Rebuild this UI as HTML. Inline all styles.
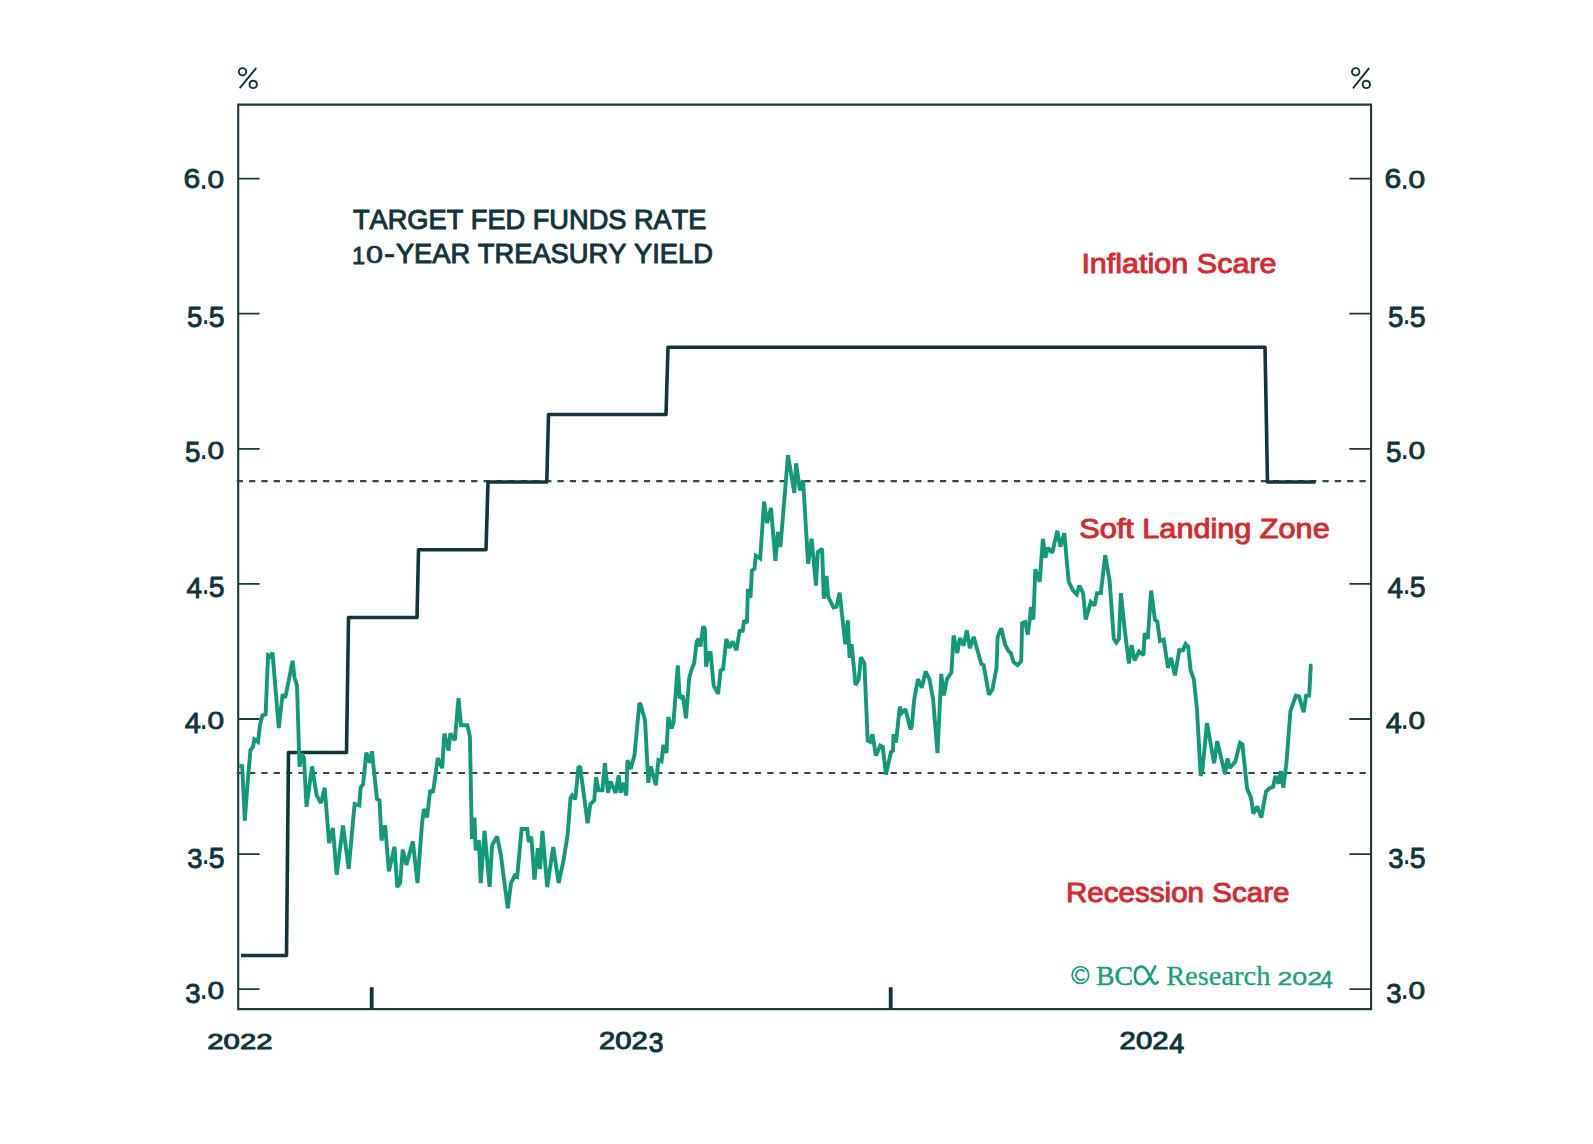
<!DOCTYPE html><html><head><meta charset="utf-8"><style>html,body{margin:0;padding:0;background:#fff;overflow:hidden}svg{display:block}text{font-kerning:none}</style></head><body>
<svg width="1593" height="1144" viewBox="0 0 1593 1144">
<rect width="1593" height="1144" fill="#fff"/>
<path d="M238.2 104.6 H1371.1 V1009.1 H238.2 Z" fill="none" stroke="#1b3a3e" stroke-width="2.1"/>
<path d="M238.2 989.2 H259.6 M1349.4 989.2 H1371 M238.2 854.1 H259.6 M1349.4 854.1 H1371 M238.2 719.0 H259.6 M1349.4 719.0 H1371 M238.2 583.9 H259.6 M1349.4 583.9 H1371 M238.2 448.8 H259.6 M1349.4 448.8 H1371 M238.2 313.7 H259.6 M1349.4 313.7 H1371 M238.2 178.6 H259.6 M1349.4 178.6 H1371 " stroke="#1b3a3e" stroke-width="1.8" fill="none"/>
<path d="M371.7 987.2 V1009 M890.7 987.3 V1009" stroke="#11353a" stroke-width="3.8" fill="none"/>
<path d="M236.7 481.2 H1367" stroke="#34494a" stroke-width="2.2" stroke-dasharray="6.25 6.088" fill="none"/>
<path d="M236.7 773.0 H1367" stroke="#34494a" stroke-width="2.2" stroke-dasharray="6.25 6.088" fill="none"/>
<polyline points="241,955.5 286.5,955.5 288.5,752.5 346.5,752.5 348.5,617.5 417,617.5 418.5,549.8 486,549.8 488,482 546.8,482 548.5,414.5 666,414.5 668,347.3 1265,347.3 1267.5,482 1315.5,482" fill="none" stroke="#11353a" stroke-width="3.6" stroke-linejoin="round"/>
<polyline points="239.3,765.8 242.2,766.2 244.8,820.6 248.0,777.8 250.5,750.0 253.0,747.0 254.3,739.4 258.0,742.0 259.9,725.6 262.4,715.5 265.6,714.3 268.1,655.1 270.6,656.4 272.5,652.6 278.8,728.1 282.6,694.1 285.1,697.9 286.3,692.9 292.6,660.8 294.5,677.8 297.0,685.3 299.5,766.8 301.8,753.5 304.0,758.3 306.5,806.7 312.1,766.4 316.6,795.4 321.0,803.0 324.7,787.8 329.1,843.2 332.9,828.1 336.7,874.7 343.0,825.4 348.7,868.8 354.6,804.0 359.3,805.4 360.6,787.8 363.1,784.0 366.3,752.6 369.4,762.7 371.9,751.3 377.0,799.0 379.5,800.5 381.5,840.5 385.1,825.4 388.9,871.3 394.5,846.8 397.2,887.0 400.2,883.1 402.7,849.6 406.5,865.0 412.8,841.2 417.5,883.0 422.0,824.0 423.9,809.0 427.1,817.2 430.2,790.1 433.0,792.6 437.8,758.0 442.2,768.1 444.3,733.5 448.5,750.5 450.3,733.5 454.8,740.4 458.5,698.3 461.0,725.3 467.3,725.3 469.9,736.6 471.9,839.0 474.5,817.6 475.7,850.3 478.9,840.3 480.7,883.1 484.5,830.8 489.6,886.8 492.1,845.3 497.1,836.5 500.9,855.4 507.8,908.2 511.0,883.1 514.7,875.5 517.2,876.8 521.6,829.0 527.2,828.9 528.7,842.0 531.3,836.6 534.5,879.6 537.9,848.1 540.1,869.0 542.4,831.0 547.2,887.2 553.2,847.0 558.7,883.0 563.7,859.4 567.6,835.0 570.5,798.0 572.2,795.4 575.3,799.2 578.5,766.4 580.3,767.7 587.6,823.3 590.4,804.2 594.2,800.4 596.1,777.1 598.6,790.3 602.4,790.3 604.9,763.3 608.0,792.9 610.6,781.5 615.6,792.9 618.7,775.2 620.6,792.9 623.1,782.8 626.3,795.4 627.5,760.1 630.7,769.0 634.5,755.1 639.4,703.2 640.7,704.5 645.1,720.8 648.3,782.8 650.8,766.4 655.9,785.3 658.4,760.1 661.5,761.4 663.4,745.0 666.5,753.0 668.2,717.0 671.5,728.4 673.4,723.3 677.8,665.4 679.7,698.2 682.9,695.7 686.0,718.3 689.2,678.0 691.7,669.2 694.2,662.9 696.7,641.5 698.6,639.0 700.5,646.6 703.0,626.4 704.9,629.0 706.1,666.7 708.7,652.9 710.6,652.9 713.7,685.6 718.1,693.8 720.6,670.5 723.1,669.2 726.3,639.0 729.4,647.8 732.6,641.5 736.4,650.3 739.6,630.9 742.7,630.9 744,620.4 747,623 747.9,589 750.5,597.7 751.9,570.6 754.5,568.8 755.8,555.7 760.2,558.4 764.1,501.7 767.2,523.1 771.0,508.0 775.4,560.8 777.9,531.9 780.4,547.0 788.0,455.1 794.3,492.9 796.1,463.3 799.9,490.3 803.1,480.3 808.1,563.7 811.6,538.8 816.0,585.6 817.7,552.3 822.1,548.8 823.8,598.7 826.5,575.9 828.2,596.9 833.5,607.4 836.5,606.6 839.6,592.6 845.3,644.3 847.8,620.4 849.6,658.0 851.6,644.3 855.6,685.0 858.7,679.5 860.9,657.3 864.4,663.5 867.7,740.6 870.2,741.9 872.5,734.3 875.9,755.7 880.3,745.7 882.8,746.9 885.9,774.6 891.0,752.0 892.9,750.7 893.5,734.3 896.0,742.5 899.8,706.6 901.7,712.9 905.4,709.2 910.5,729.3 911.7,726.8 914.3,699.1 918.0,679.0 921.8,687.8 925.6,671.4 929.4,679.0 933.1,699.1 937.5,753.2 941.3,673.9 943.8,695.3 947.0,679.0 951.4,672.7 953.6,635.5 957.3,653.1 959.9,638.0 963.6,645.6 966.8,630.5 969.9,648.1 973.7,636.8 978.5,654.0 981.4,664.0 983.6,665.0 988.9,694.7 992.4,689.5 996.5,668.0 997.6,637.1 1001.3,628.3 1005.1,644.7 1008.5,651.0 1010.8,653.0 1013.5,662.0 1017.5,665.1 1021.2,661.3 1022.1,623.3 1025.2,622.0 1027.8,634.6 1029.6,620.8 1030.9,606.9 1033.4,619.5 1035.3,569.2 1039.7,581.7 1042.9,539.0 1045.4,557.8 1047.9,547.8 1052.3,552.8 1057.3,530.8 1060.5,546.5 1064.3,533.3 1068.7,581.7 1073.1,590.6 1076.8,594.3 1079.4,585.5 1083.1,593.1 1085.7,619.5 1090.7,601.9 1094.5,605.7 1097.0,593.1 1100.8,593.1 1105.2,555.3 1109.6,580.5 1113.8,638.9 1116.4,642.7 1118.9,638.9 1120.9,593.1 1124.7,629.6 1128.9,663.4 1131.5,645.2 1134.6,660.3 1139.0,651.5 1143.4,655.2 1144.7,633.2 1147.8,638.9 1151.1,590.6 1154.9,619.5 1157.4,622.0 1159.9,640.9 1163.7,639.6 1168.0,667.8 1171.1,657.8 1174.9,675.4 1179.3,650.2 1183.1,650.2 1185.6,643.9 1188.1,646.4 1190.6,670.3 1193.8,679.2 1196.9,708.1 1200.7,775.9 1202.3,771.1 1207.0,723.2 1214.1,763.3 1217.2,741.3 1225.1,774.3 1227.4,758.6 1229.8,768.0 1235.3,761.7 1240.0,742.8 1242.4,744.4 1247.1,788.5 1251.0,797.9 1253.4,813.6 1257.3,806.5 1261.3,817.6 1266.0,791.6 1269.1,788.5 1273.1,786.9 1275.4,775.9 1278.6,783.7 1280.9,771.1 1283.3,787.7 1286.4,763.3 1290.4,711.4 1295.9,695.6 1299.0,696.4 1303.7,712.1 1306.1,695.6 1309.2,695.6 1310.8,665.7 1312.4,665.7" fill="none" stroke="#12997a" stroke-width="3.9" stroke-linejoin="miter" stroke-miterlimit="2"/>
<circle cx="242.5" cy="71.8" r="3.7" fill="none" stroke="#11353a" stroke-width="1.9"/><circle cx="253.2" cy="84.4" r="3.7" fill="none" stroke="#11353a" stroke-width="1.9"/><line x1="240.2" y1="87.6" x2="255.7" y2="68.6" stroke="#11353a" stroke-width="1.9" stroke-linecap="round"/>
<circle cx="1355.7" cy="71.8" r="3.7" fill="none" stroke="#11353a" stroke-width="1.9"/><circle cx="1366.3" cy="84.4" r="3.7" fill="none" stroke="#11353a" stroke-width="1.9"/><line x1="1353.5" y1="87.7" x2="1368.7" y2="68.6" stroke="#11353a" stroke-width="1.9" stroke-linecap="round"/>
<text transform="matrix(0.30124 0 0 0.28531 183.52 188.47)" font-family="Liberation Sans" font-weight="normal" font-size="100.0" fill="#11353a" stroke="#11353a" stroke-width="3.069" stroke-linejoin="round">6</text>
<text transform="matrix(0.31508 0 0 0.35536 199.32 188.80)" font-family="Liberation Sans" font-weight="normal" font-size="100.0" fill="#11353a">.</text>
<text transform="matrix(0.29915 0 0 0.24576 207.48 188.41)" font-family="Liberation Sans" font-weight="normal" font-size="100.0" fill="#11353a" stroke="#11353a" stroke-width="3.303" stroke-linejoin="round">0</text>
<text transform="matrix(0.30124 0 0 0.28531 1384.52 188.47)" font-family="Liberation Sans" font-weight="normal" font-size="100.0" fill="#11353a" stroke="#11353a" stroke-width="3.069" stroke-linejoin="round">6</text>
<text transform="matrix(0.31508 0 0 0.35536 1400.32 188.80)" font-family="Liberation Sans" font-weight="normal" font-size="100.0" fill="#11353a">.</text>
<text transform="matrix(0.29915 0 0 0.24576 1408.48 188.41)" font-family="Liberation Sans" font-weight="normal" font-size="100.0" fill="#11353a" stroke="#11353a" stroke-width="3.303" stroke-linejoin="round">0</text>
<text transform="matrix(0.27630 0 0 0.28663 187.04 327.27)" font-family="Liberation Sans" font-weight="normal" font-size="100.0" fill="#11353a" stroke="#11353a" stroke-width="3.198" stroke-linejoin="round">5</text>
<text transform="matrix(0.29407 0 0 0.35536 201.51 323.90)" font-family="Liberation Sans" font-weight="normal" font-size="100.0" fill="#11353a">.</text>
<text transform="matrix(0.28474 0 0 0.28663 208.81 327.27)" font-family="Liberation Sans" font-weight="normal" font-size="100.0" fill="#11353a" stroke="#11353a" stroke-width="3.150" stroke-linejoin="round">5</text>
<text transform="matrix(0.27630 0 0 0.28663 1388.04 327.27)" font-family="Liberation Sans" font-weight="normal" font-size="100.0" fill="#11353a" stroke="#11353a" stroke-width="3.198" stroke-linejoin="round">5</text>
<text transform="matrix(0.29407 0 0 0.35536 1402.51 323.90)" font-family="Liberation Sans" font-weight="normal" font-size="100.0" fill="#11353a">.</text>
<text transform="matrix(0.28474 0 0 0.28663 1409.81 327.27)" font-family="Liberation Sans" font-weight="normal" font-size="100.0" fill="#11353a" stroke="#11353a" stroke-width="3.150" stroke-linejoin="round">5</text>
<text transform="matrix(0.27841 0 0 0.28663 185.04 462.37)" font-family="Liberation Sans" font-weight="normal" font-size="100.0" fill="#11353a" stroke="#11353a" stroke-width="3.186" stroke-linejoin="round">5</text>
<text transform="matrix(0.31508 0 0 0.35536 199.32 459.00)" font-family="Liberation Sans" font-weight="normal" font-size="100.0" fill="#11353a">.</text>
<text transform="matrix(0.29915 0 0 0.24576 207.48 458.61)" font-family="Liberation Sans" font-weight="normal" font-size="100.0" fill="#11353a" stroke="#11353a" stroke-width="3.303" stroke-linejoin="round">0</text>
<text transform="matrix(0.27841 0 0 0.28663 1386.04 462.37)" font-family="Liberation Sans" font-weight="normal" font-size="100.0" fill="#11353a" stroke="#11353a" stroke-width="3.186" stroke-linejoin="round">5</text>
<text transform="matrix(0.31508 0 0 0.35536 1400.32 459.00)" font-family="Liberation Sans" font-weight="normal" font-size="100.0" fill="#11353a">.</text>
<text transform="matrix(0.29915 0 0 0.24576 1408.48 458.61)" font-family="Liberation Sans" font-weight="normal" font-size="100.0" fill="#11353a" stroke="#11353a" stroke-width="3.303" stroke-linejoin="round">0</text>
<text transform="matrix(0.28180 0 0 0.29070 186.40 597.75)" font-family="Liberation Sans" font-weight="normal" font-size="100.0" fill="#11353a" stroke="#11353a" stroke-width="3.144" stroke-linejoin="round">4</text>
<text transform="matrix(0.29407 0 0 0.35536 201.51 594.10)" font-family="Liberation Sans" font-weight="normal" font-size="100.0" fill="#11353a">.</text>
<text transform="matrix(0.28474 0 0 0.28663 208.81 597.47)" font-family="Liberation Sans" font-weight="normal" font-size="100.0" fill="#11353a" stroke="#11353a" stroke-width="3.150" stroke-linejoin="round">5</text>
<text transform="matrix(0.28180 0 0 0.29070 1387.40 597.75)" font-family="Liberation Sans" font-weight="normal" font-size="100.0" fill="#11353a" stroke="#11353a" stroke-width="3.144" stroke-linejoin="round">4</text>
<text transform="matrix(0.29407 0 0 0.35536 1402.51 594.10)" font-family="Liberation Sans" font-weight="normal" font-size="100.0" fill="#11353a">.</text>
<text transform="matrix(0.28474 0 0 0.28663 1409.81 597.47)" font-family="Liberation Sans" font-weight="normal" font-size="100.0" fill="#11353a" stroke="#11353a" stroke-width="3.150" stroke-linejoin="round">5</text>
<text transform="matrix(0.28974 0 0 0.29070 184.79 732.85)" font-family="Liberation Sans" font-weight="normal" font-size="100.0" fill="#11353a" stroke="#11353a" stroke-width="3.101" stroke-linejoin="round">4</text>
<text transform="matrix(0.31508 0 0 0.35536 199.32 729.20)" font-family="Liberation Sans" font-weight="normal" font-size="100.0" fill="#11353a">.</text>
<text transform="matrix(0.29915 0 0 0.24576 207.48 728.81)" font-family="Liberation Sans" font-weight="normal" font-size="100.0" fill="#11353a" stroke="#11353a" stroke-width="3.303" stroke-linejoin="round">0</text>
<text transform="matrix(0.28974 0 0 0.29070 1385.79 732.85)" font-family="Liberation Sans" font-weight="normal" font-size="100.0" fill="#11353a" stroke="#11353a" stroke-width="3.101" stroke-linejoin="round">4</text>
<text transform="matrix(0.31508 0 0 0.35536 1400.32 729.20)" font-family="Liberation Sans" font-weight="normal" font-size="100.0" fill="#11353a">.</text>
<text transform="matrix(0.29915 0 0 0.24576 1408.48 728.81)" font-family="Liberation Sans" font-weight="normal" font-size="100.0" fill="#11353a" stroke="#11353a" stroke-width="3.303" stroke-linejoin="round">0</text>
<text transform="matrix(0.27419 0 0 0.28248 187.21 867.67)" font-family="Liberation Sans" font-weight="normal" font-size="100.0" fill="#11353a" stroke="#11353a" stroke-width="3.233" stroke-linejoin="round">3</text>
<text transform="matrix(0.29407 0 0 0.35536 201.51 864.30)" font-family="Liberation Sans" font-weight="normal" font-size="100.0" fill="#11353a">.</text>
<text transform="matrix(0.28474 0 0 0.28663 208.81 867.67)" font-family="Liberation Sans" font-weight="normal" font-size="100.0" fill="#11353a" stroke="#11353a" stroke-width="3.150" stroke-linejoin="round">5</text>
<text transform="matrix(0.27419 0 0 0.28248 1388.21 867.67)" font-family="Liberation Sans" font-weight="normal" font-size="100.0" fill="#11353a" stroke="#11353a" stroke-width="3.233" stroke-linejoin="round">3</text>
<text transform="matrix(0.29407 0 0 0.35536 1402.51 864.30)" font-family="Liberation Sans" font-weight="normal" font-size="100.0" fill="#11353a">.</text>
<text transform="matrix(0.28474 0 0 0.28663 1409.81 867.67)" font-family="Liberation Sans" font-weight="normal" font-size="100.0" fill="#11353a" stroke="#11353a" stroke-width="3.150" stroke-linejoin="round">5</text>
<text transform="matrix(0.27630 0 0 0.28248 185.20 1002.77)" font-family="Liberation Sans" font-weight="normal" font-size="100.0" fill="#11353a" stroke="#11353a" stroke-width="3.221" stroke-linejoin="round">3</text>
<text transform="matrix(0.31508 0 0 0.35536 199.32 999.40)" font-family="Liberation Sans" font-weight="normal" font-size="100.0" fill="#11353a">.</text>
<text transform="matrix(0.29915 0 0 0.24576 207.48 999.01)" font-family="Liberation Sans" font-weight="normal" font-size="100.0" fill="#11353a" stroke="#11353a" stroke-width="3.303" stroke-linejoin="round">0</text>
<text transform="matrix(0.27630 0 0 0.28248 1386.20 1002.77)" font-family="Liberation Sans" font-weight="normal" font-size="100.0" fill="#11353a" stroke="#11353a" stroke-width="3.221" stroke-linejoin="round">3</text>
<text transform="matrix(0.31508 0 0 0.35536 1400.32 999.40)" font-family="Liberation Sans" font-weight="normal" font-size="100.0" fill="#11353a">.</text>
<text transform="matrix(0.29915 0 0 0.24576 1408.48 999.01)" font-family="Liberation Sans" font-weight="normal" font-size="100.0" fill="#11353a" stroke="#11353a" stroke-width="3.303" stroke-linejoin="round">0</text>
<text transform="matrix(0.29331 0 0 0.22316 207.27 1049.13)" font-family="Liberation Sans" font-weight="normal" font-size="100.0" fill="#11353a" stroke="#11353a" stroke-width="4.260" stroke-linejoin="round">2022</text>
<text transform="matrix(0.29212 0 0 0.23305 598.98 1048.92)" font-family="Liberation Sans" font-weight="normal" font-size="100.0" fill="#11353a" stroke="#11353a" stroke-width="4.189" stroke-linejoin="round">202</text>
<text transform="matrix(0.26365 0 0 0.27118 648.85 1052.49)" font-family="Liberation Sans" font-weight="normal" font-size="100.0" fill="#11353a" stroke="#11353a" stroke-width="4.113" stroke-linejoin="round">3</text>
<text transform="matrix(0.29339 0 0 0.23305 1119.57 1048.92)" font-family="Liberation Sans" font-weight="normal" font-size="100.0" fill="#11353a" stroke="#11353a" stroke-width="4.179" stroke-linejoin="round">202</text>
<text transform="matrix(0.26989 0 0 0.28344 1169.23 1052.75)" font-family="Liberation Sans" font-weight="normal" font-size="100.0" fill="#11353a" stroke="#11353a" stroke-width="3.976" stroke-linejoin="round">4</text>
<text transform="matrix(0.27205 0 0 0.27326 352.99 229.10)" font-family="Liberation Sans" font-weight="normal" font-size="100.0" fill="#11353a" stroke="#11353a" stroke-width="3.668" stroke-linejoin="round">TARGET FED FUNDS RATE</text>
<text transform="matrix(0.23658 0 0 0.23111 352.10 263.50)" font-family="Liberation Sans" font-weight="normal" font-size="100.0" fill="#11353a" stroke="#11353a" stroke-width="3.421" stroke-linejoin="round">1</text>
<text transform="matrix(0.30542 0 0 0.23870 366.01 263.47)" font-family="Liberation Sans" font-weight="normal" font-size="100.0" fill="#11353a" stroke="#11353a" stroke-width="2.941" stroke-linejoin="round">0</text>
<text transform="matrix(0.34816 0 0 0.34560 383.80 265.28)" font-family="Liberation Sans" font-weight="normal" font-size="100.0" fill="#11353a" stroke="#11353a" stroke-width="0.865" stroke-linejoin="round">-</text>
<text transform="matrix(0.27312 0 0 0.28489 395.90 263.40)" font-family="Liberation Sans" font-weight="normal" font-size="100.0" fill="#11353a" stroke="#11353a" stroke-width="3.584" stroke-linejoin="round">YEAR TREASURY YIELD</text>
<text transform="matrix(0.30547 0 0 0.28344 1081.38 273.20)" font-family="Liberation Sans" font-weight="normal" font-size="100.0" fill="#d42a30" stroke="#d42a30" stroke-width="3.396" stroke-linejoin="round">Inflation Scare</text>
<text transform="matrix(0.30645 0 0 0.27907 1079.31 537.90)" font-family="Liberation Sans" font-weight="normal" font-size="100.0" fill="#d42a30" stroke="#d42a30" stroke-width="3.416" stroke-linejoin="round">Soft Landing Zone</text>
<text transform="matrix(0.29586 0 0 0.27762 1065.97 901.60)" font-family="Liberation Sans" font-weight="normal" font-size="100.0" fill="#d42a30" stroke="#d42a30" stroke-width="3.487" stroke-linejoin="round">Recession Scare</text>
<circle cx="1080.4" cy="975" r="8.3" fill="none" stroke="#17a07d" stroke-width="1.7"/>
<path d="M1084.6 971.6 A4.9 5.1 0 1 0 1084.6 978.4" fill="none" stroke="#17a07d" stroke-width="1.8"/>
<text transform="matrix(0.27760 0 0 0.28053 1096.05 985.05)" font-family="Liberation Serif" font-weight="normal" font-size="100.0" fill="#17a07d" stroke="#17a07d" stroke-width="1.792" stroke-linejoin="round">BC</text>
<path d="M1155.2 966.3 C1151 975 1147 984.2 1141.3 984.2 C1136.6 984.2 1134.9 980 1134.9 975.4 C1134.9 970.2 1137.2 966.6 1141.6 966.6 C1147.2 966.6 1149.6 977 1152.6 981.8 C1154 984 1156 984.3 1157.8 982.2" fill="none" stroke="#17a07d" stroke-width="2.6" stroke-linecap="round"/>
<text transform="matrix(0.28461 0 0 0.28344 1166.13 985.35)" font-family="Liberation Serif" font-weight="normal" font-size="100.0" fill="#17a07d" stroke="#17a07d" stroke-width="1.056" stroke-linejoin="round">Research</text>
<text transform="matrix(0.26724 0 0 0.19209 1277.51 985.06)" font-family="Liberation Sans" font-weight="normal" font-size="100.0" fill="#17a07d" stroke="#17a07d" stroke-width="2.177" stroke-linejoin="round">202</text>
<text transform="matrix(0.22425 0 0 0.23838 1320.24 988.05)" font-family="Liberation Sans" font-weight="normal" font-size="100.0" fill="#17a07d" stroke="#17a07d" stroke-width="2.162" stroke-linejoin="round">4</text>
</svg></body></html>
